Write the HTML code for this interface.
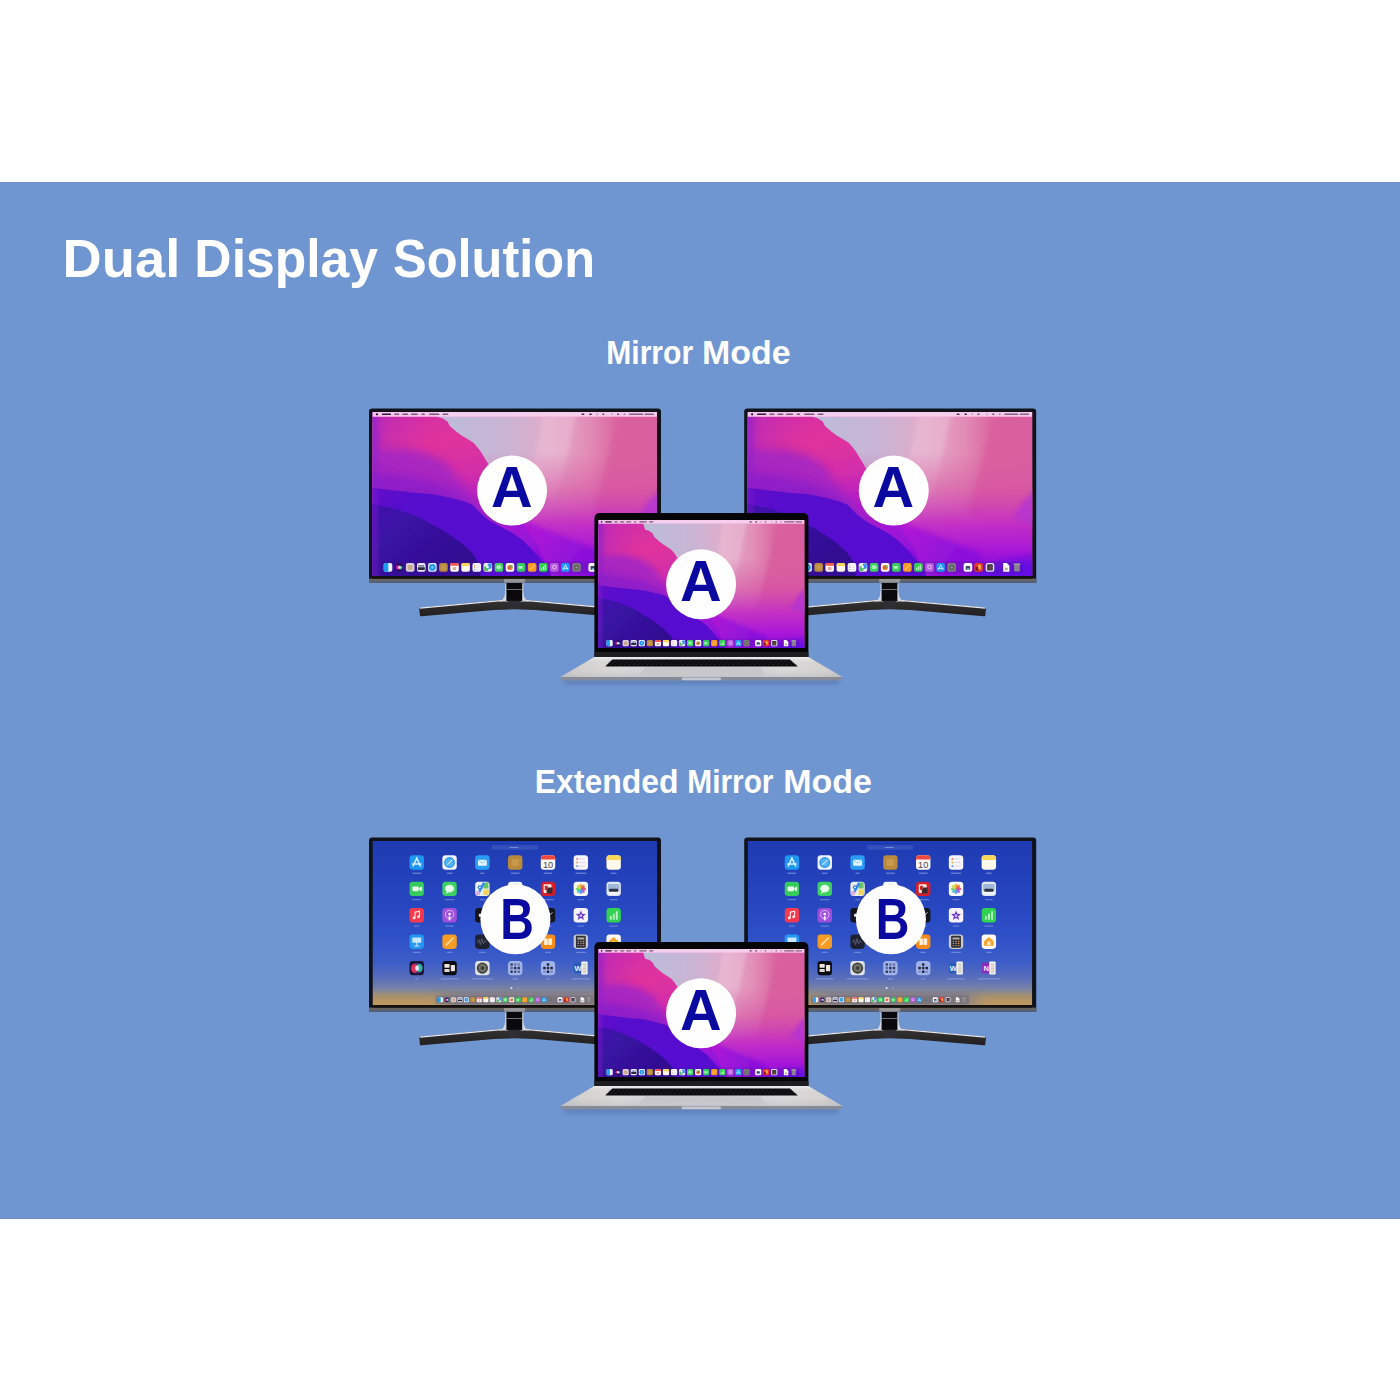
<!DOCTYPE html>
<html><head><meta charset="utf-8"><title>Dual Display Solution</title>
<style>
html,body{margin:0;padding:0;background:#fff;}
body{width:1400px;height:1400px;overflow:hidden;font-family:"Liberation Sans",sans-serif;}
svg{display:block}
text{font-family:"Liberation Sans",sans-serif;}
</style></head><body>
<svg width="1400" height="1400" viewBox="0 0 1400 1400">
<defs>

<linearGradient id="wBg" x1="70" y1="0" x2="284" y2="0" gradientUnits="userSpaceOnUse">
 <stop offset="0" stop-color="#bcbcd9"/><stop offset=".3" stop-color="#cbb4d4"/>
 <stop offset=".5" stop-color="#e2acca"/><stop offset=".68" stop-color="#e28db6"/>
 <stop offset=".82" stop-color="#db66a1"/><stop offset="1" stop-color="#d85e9e"/>
</linearGradient>
<linearGradient id="wBgV" x1="0" y1="40" x2="0" y2="164" gradientUnits="userSpaceOnUse">
 <stop offset="0" stop-color="#d85e9e" stop-opacity="0"/><stop offset=".3" stop-color="#d650a6" stop-opacity=".55"/>
 <stop offset=".58" stop-color="#c22cc6" stop-opacity=".95"/><stop offset=".8" stop-color="#a616d8"/><stop offset="1" stop-color="#8a10d6"/>
</linearGradient>
<linearGradient id="wPink" x1="40" y1="0" x2="70" y2="164" gradientUnits="userSpaceOnUse">
 <stop offset="0" stop-color="#d42ea6"/><stop offset=".2" stop-color="#e0329b"/><stop offset=".42" stop-color="#d22eaa"/>
 <stop offset=".6" stop-color="#b420c6"/><stop offset=".76" stop-color="#a416d6"/><stop offset="1" stop-color="#8c10da"/>
</linearGradient>
<linearGradient id="wLeft" x1="0" y1="0" x2="60" y2="0" gradientUnits="userSpaceOnUse">
 <stop offset="0" stop-color="#a226c6" stop-opacity=".85"/><stop offset=".25" stop-color="#b42abc" stop-opacity=".5"/><stop offset="1" stop-color="#c42cb4" stop-opacity="0"/>
</linearGradient>
<linearGradient id="wB2" x1="0" y1="30" x2="60" y2="110" gradientUnits="userSpaceOnUse">
 <stop offset="0" stop-color="#a824c2"/><stop offset=".5" stop-color="#b024c0"/><stop offset="1" stop-color="#a01cc8"/>
</linearGradient>
<linearGradient id="wB3" x1="0" y1="60" x2="120" y2="150" gradientUnits="userSpaceOnUse">
 <stop offset="0" stop-color="#6412c8"/><stop offset=".3" stop-color="#570fcc"/><stop offset="1" stop-color="#560ed0"/>
</linearGradient>
<linearGradient id="wB4" x1="0" y1="90" x2="60" y2="164" gradientUnits="userSpaceOnUse">
 <stop offset="0" stop-color="#4511b2"/><stop offset=".4" stop-color="#3912a2"/><stop offset="1" stop-color="#311092"/>
</linearGradient>
<linearGradient id="wMag" x1="110" y1="90" x2="200" y2="164" gradientUnits="userSpaceOnUse">
 <stop offset="0" stop-color="#c020c4"/><stop offset=".5" stop-color="#ac18d6"/><stop offset="1" stop-color="#8a10da"/>
</linearGradient>
<filter id="wblur" x="-5%" y="-5%" width="110%" height="110%"><feGaussianBlur stdDeviation="0.7"/></filter>
<filter id="wblur2" x="-10%" y="-10%" width="120%" height="120%"><feGaussianBlur stdDeviation="2.2"/></filter>
<filter id="wblur3" x="-10%" y="-10%" width="120%" height="120%"><feGaussianBlur stdDeviation="4"/></filter>

<g id="wallart"><rect x="-2" y="-14" width="288.5" height="184" fill="url(#wBg)"/><polygon points="175.1,-16.3 207.7,-16.3 195.4,40.7 183.2,85.5 162.9,87.5 160.8,50.9" fill="#ecbdd6" opacity=".55" filter="url(#wblur2)"/><polygon points="250.4,-16.3 289.1,-16.3 289.1,105.9 219.9,105.9 234.1,50.9" fill="#d9609f" opacity=".9" filter="url(#wblur2)"/><rect x="-2" y="-14" width="288.5" height="184" fill="url(#wBgV)"/><polygon points="289.1,77.4 276.9,87.5 264.7,105.9 289.1,114.0" fill="#b434d2" opacity=".8" filter="url(#wblur2)"/><polygon points="114.0,85.5 154.7,109.9 195.4,126.2 234.1,142.5 234.1,171.0 101.8,171.0" fill="url(#wMag)" filter="url(#wblur2)"/><polygon points="-5.0,-16.0 58.0,-16.0 61.0,-6.0 64.5,4.8 70.0,6.2 75.0,9.5 77.3,14.0 83.0,19.0 89.0,23.4 95.0,27.0 100.7,30.6 104.3,34.4 107.7,38.8 111.2,44.4 115.0,50.8 130.0,77.0 151.0,113.0 163.0,130.0 183.0,172.0 -5.0,172.0" fill="url(#wPink)" filter="url(#wblur)"/><rect x="-2" y="-14" width="62" height="94" fill="url(#wLeft)"/><polygon points="-8.0,37.0 12.0,38.0 35.0,37.5 58.5,43.0 75.0,52.5 84.0,65.0 100.0,85.0 140.0,125.0 140.0,172.0 -8.0,172.0" fill="#a225c4" opacity=".86" filter="url(#wblur3)"/><polygon points="-8.0,60.0 30.0,64.0 60.0,70.0 85.0,80.0 100.0,92.0 120.0,112.0 120.0,172.0 -8.0,172.0" fill="#8a1cca" opacity=".8" filter="url(#wblur3)"/><polygon points="-5.0,75.0 20.0,78.2 40.0,80.5 58.5,82.0 70.0,84.0 82.0,86.7 92.0,89.5 99.5,92.6 105.4,98.5 111.0,104.0 117.0,108.6 128.8,115.0 140.0,121.0 150.0,128.0 160.0,138.0 169.0,148.0 176.0,157.0 181.0,172.0 -5.0,172.0" fill="url(#wB3)" filter="url(#wblur)"/><polygon points="-5.0,91.5 3.5,92.5 23.4,96.8 46.8,105.4 70.3,118.3 87.8,130.0 99.5,140.5 105.4,150.0 110.0,172.0 -5.0,172.0" fill="url(#wB4)" filter="url(#wblur)"/><ellipse cx="290" cy="172" rx="70" ry="26" fill="#5a0ee6" opacity=".8" filter="url(#wblur3)"/><rect x="-2" y="-14" width="8" height="186" fill="#8a22d0" opacity=".35" filter="url(#wblur2)"/></g><g id="menubar"><rect x="0" y="0" width="284.5" height="4.7" fill="#f7d0ee" opacity=".94"/><rect x="0" y="4.1" width="284.5" height=".7" fill="#fda6e6" opacity=".5"/><g fill="#2a1030"><circle cx="4.4" cy="2.35" r="1.1"/><rect x="9.4" y="1.6" width="9.1" height="1.5" rx=".6" opacity="0.95"/><rect x="21.8" y="1.6" width="4.8" height="1.5" rx=".6" opacity="0.6"/><rect x="29.8" y="1.6" width="5.9" height="1.5" rx=".6" opacity="0.6"/><rect x="38.4" y="1.6" width="6.9" height="1.5" rx=".6" opacity="0.6"/><rect x="49.0" y="1.6" width="3.3" height="1.5" rx=".6" opacity="0.6"/><rect x="56.6" y="1.6" width="10.2" height="1.5" rx=".6" opacity="0.6"/><rect x="70.0" y="1.6" width="5.9" height="1.5" rx=".6" opacity="0.6"/><rect x="209.0" y="1.5" width="2.8" height="1.6" rx=".6" opacity="0.85"/><rect x="216.8" y="1.5" width="2.4" height="1.6" rx=".6" opacity="0.9"/><rect x="224.0" y="1.5" width="1.2" height="1.6" rx=".6" opacity="0.5"/><rect x="229.8" y="1.5" width="2.0" height="1.6" rx=".6" opacity="0.7"/><rect x="238.5" y="1.5" width="1.4" height="1.6" rx=".6" opacity="0.35"/><rect x="244.6" y="1.5" width="2.0" height="1.6" rx=".6" opacity="0.7"/><rect x="251.0" y="1.5" width="2.0" height="1.6" rx=".6" opacity="0.4"/><rect x="256.5" y="1.5" width="14.0" height="1.6" rx=".6" opacity="0.55"/><rect x="272.0" y="1.5" width="9.3" height="1.6" rx=".6" opacity="0.55"/></g></g>
<g id="dock"><rect x="-4.30" y="-4.30" width="8.60" height="8.60" rx="1.98" fill="#e9f1fa" /><path d="M-2.32 -4.30 h2.62 v8.60 h-2.62 a1.98 1.98 0 0 1 -1.98 -1.98 v-4.64 a1.98 1.98 0 0 1 1.98 -1.98 z" fill="#1d9bf3"/><circle cx="11.09" cy="0.00" r="4.08" fill="#2a0d5a"/><circle cx="10.29" cy="0.00" r="2.37" fill="#d020a0"/><circle cx="12.59" cy="0.20" r="1.81" fill="#30d0a0"/><circle cx="11.39" cy="0.00" r="1.20" fill="#f4e8ff"/><rect x="17.88" y="-4.30" width="8.60" height="8.60" rx="1.98" fill="#d9cfd6" /><rect x="19.81" y="-2.37" width="4.73" height="4.73" rx="0.80" fill="#c9a98c" /><rect x="28.97" y="-4.30" width="8.60" height="8.60" rx="1.98" fill="#e8e6f2" /><rect x="29.74" y="-0.18" width="7.05" height="2.75" rx="0.50" fill="#2c2c3c" /><rect x="30.26" y="-2.46" width="6.02" height="1.72" rx="0.40" fill="#7a86b0" /><rect x="40.06" y="-4.30" width="8.60" height="8.60" rx="1.98" fill="#e6f0fb" /><circle cx="44.36" cy="0.00" r="3.35" fill="#2496ef"/><circle cx="44.36" cy="0.00" r="1.29" fill="#7cc6f8"/><rect x="51.15" y="-4.30" width="8.60" height="8.60" rx="1.98" fill="#b98a3e" /><rect x="53.30" y="-2.15" width="4.30" height="4.30" rx="1.00" fill="#c79a4c" /><rect x="62.24" y="-4.30" width="8.60" height="8.60" rx="1.98" fill="#fbf7f6" /><path d="M64.22 -4.30 h4.64 a1.98 1.98 0 0 1 1.98 1.98 v0.6 h-8.60 v-0.6 a1.98 1.98 0 0 1 1.98 -1.98 z" fill="#f2564a"/><rect x="64.82" y="-0.30" width="3.44" height="3.01" rx="0.50" fill="#e8a8a0" /><rect x="73.33" y="-4.30" width="8.60" height="8.60" rx="1.98" fill="#fcf8ea" /><path d="M75.31 -4.30 h4.64 a1.98 1.98 0 0 1 1.98 1.98 v0.9 h-8.60 v-0.9 a1.98 1.98 0 0 1 1.98 -1.98 z" fill="#f8d65a"/><rect x="84.42" y="-4.30" width="8.60" height="8.60" rx="1.98" fill="#f7f4fa" /><circle cx="86.52" cy="-2.20" r=".55" fill="#f06050"/><rect x="87.72" y="-2.45" width="3.6" height=".5" fill="#d8d4dc"/><circle cx="86.52" cy="0.00" r=".55" fill="#f0a030"/><rect x="87.72" y="-0.25" width="3.6" height=".5" fill="#d8d4dc"/><circle cx="86.52" cy="2.20" r=".55" fill="#4090f0"/><rect x="87.72" y="1.95" width="3.6" height=".5" fill="#d8d4dc"/><rect x="95.51" y="-4.30" width="8.60" height="8.60" rx="1.98" fill="#e6f2e6" /><rect x="96.06" y="-1.07" width="4.30" height="4.73" rx="1.00" fill="#58c060" /><rect x="99.67" y="-3.78" width="3.87" height="5.16" rx="1.00" fill="#3a8ef0" /><circle cx="99.51" cy="-0.50" r="1.3" fill="#f0f4fa"/><rect x="106.60" y="-4.30" width="8.60" height="8.60" rx="1.98" fill="#3fd263" /><ellipse cx="110.90" cy="-0.20" rx="2.5" ry="2.1" fill="#a8f0b8"/><rect x="117.69" y="-4.30" width="8.60" height="8.60" rx="1.98" fill="#faf6f4" /><circle cx="121.99" cy="0.00" r="2.7" fill="#f0903a"/><circle cx="121.39" cy="0.40" r="1.5" fill="#e05040"/><circle cx="123.19" cy="-1.00" r="1.2" fill="#60b050"/><rect x="128.78" y="-4.30" width="8.60" height="8.60" rx="1.98" fill="#36cb5a" /><rect x="130.43" y="-1.46" width="4.30" height="2.92" rx="0.50" fill="#b0f0c0" /><rect x="139.87" y="-4.30" width="8.60" height="8.60" rx="1.98" fill="#f69c24" /><path d="M141.97 2.20 L146.57 -2.40" stroke="#fbd9a0" stroke-width="1"/><rect x="150.96" y="-4.30" width="8.60" height="8.60" rx="1.98" fill="#31d152" /><rect x="152.96" y="0.40" width="1.1" height="2.20" fill="#c0f4c8"/><rect x="154.76" y="-1.00" width="1.1" height="3.60" fill="#c0f4c8"/><rect x="156.56" y="-2.40" width="1.1" height="5.00" fill="#c0f4c8"/><rect x="162.05" y="-4.30" width="8.60" height="8.60" rx="1.98" fill="#b85de0" /><circle cx="166.35" cy="-0.40" r="2.3" fill="#dca8f2"/><circle cx="166.35" cy="-0.40" r=".9" fill="#a040d0"/><rect x="173.14" y="-4.30" width="8.60" height="8.60" rx="1.98" fill="#1f98f4" /><path d="M175.14 2.40 L177.44 -2.60 L179.74 2.40 M174.64 0.90 H180.24" stroke="#d8efff" stroke-width=".9" fill="none"/><rect x="184.23" y="-4.30" width="8.60" height="8.60" rx="1.98" fill="#7e7a82" /><circle cx="188.53" cy="0.00" r="2.6" fill="#5a6058"/><circle cx="188.53" cy="0.00" r="1.2" fill="#9a9898"/><rect x="200.42" y="-4.30" width="8.60" height="8.60" rx="1.98" fill="#f6f4fa" /><rect x="202.57" y="-1.33" width="4.30" height="3.87" rx="0.60" fill="#3a4460" /><rect x="203.63" y="0.94" width="2.58" height="1.72" rx="0.40" fill="#90b8e8" /><rect x="211.07" y="-4.30" width="8.60" height="8.60" rx="1.98" fill="#e8382c" /><rect x="214.99" y="-2.77" width="2.75" height="4.73" rx="0.50" fill="#f8b050" /><rect x="212.48" y="-0.32" width="2.58" height="3.44" rx="0.50" fill="#7a1820" /><rect x="222.49" y="-4.30" width="8.60" height="8.60" rx="1.98" fill="#e4dcee" /><rect x="223.95" y="-3.10" width="5.68" height="6.19" rx="0.70" fill="#3c3a4a" /><rect x="226.12" y="-1.42" width="2.15" height="3.44" rx="0.40" fill="#7a4a3a" /><path d="M240.00 -4.30 h3.61 l2.58 2.58 v6.02 h-6.19 z" fill="#fdfbf7"/><rect x="241.59" y="0.31" width="3.01" height="2.58" rx="0.30" fill="#b8b09a" /><rect x="250.90" y="-3.57" width="5.68" height="7.74" rx="1.00" fill="#8e8a8a" opacity=".92"/><rect x="250.30" y="-3.90" width="6.88" height="1.20" rx="0.50" fill="#a8a4a0" /></g>

<linearGradient id="lpV" x1="0" y1="0" x2="0" y2="164" gradientUnits="userSpaceOnUse">
 <stop offset="0" stop-color="#1f3bb3"/><stop offset=".3" stop-color="#2443bd"/><stop offset=".55" stop-color="#2c4ec6"/><stop offset=".74" stop-color="#3d5dc8"/>
 <stop offset=".84" stop-color="#5a6fba"/><stop offset=".9" stop-color="#7882a6"/><stop offset=".945" stop-color="#a8916f"/><stop offset="1" stop-color="#c29a5e"/>
</linearGradient>
<linearGradient id="lpMid" x1="0" y1="0" x2="284.5" y2="0" gradientUnits="userSpaceOnUse">
 <stop offset="0" stop-color="#7c7c90" stop-opacity="0"/><stop offset=".2" stop-color="#7c7c90" stop-opacity="0"/><stop offset=".3" stop-color="#7c7c90" stop-opacity=".75"/>
 <stop offset=".75" stop-color="#7c7c90" stop-opacity=".75"/><stop offset=".84" stop-color="#7c7c90" stop-opacity="0"/><stop offset="1" stop-color="#7c7c90" stop-opacity="0"/>
</linearGradient>
<g id="launch"><rect width="284.5" height="164" fill="url(#lpV)"/><rect x="0" y="150" width="284.5" height="14" fill="url(#lpMid)"/><rect x="119.5" y="4.3" width="46" height="4.4" rx="1.2" fill="#8aa0e0" opacity=".2"/><rect x="137" y="5.9" width="9" height="1.2" rx=".6" fill="#c8d4f8" opacity=".45"/><g transform="translate(44.24,21.50) scale(1.6744)"><rect x="-4.30" y="-4.30" width="8.60" height="8.60" rx="1.98" fill="#1f98f4" /><path d="M-2.30 2.40 L0.00 -2.60 L2.30 2.40 M-2.80 0.90 H2.80" stroke="#d8efff" stroke-width=".9" fill="none"/></g><rect x="39.74" y="31.60" width="9.00" height="1.3" rx=".6" fill="#b4c4f2" opacity=".42"/><rect x="69.86" y="14.30" width="14.40" height="14.40" rx="3.31" fill="#eef3fa" /><circle cx="77.06" cy="21.50" r="5.4" fill="#2a95ee"/><circle cx="77.06" cy="21.50" r="4.1" fill="#55b4f6"/><path d="M74.66 23.90 L79.66 18.90" stroke="#f2f6ff" stroke-width="1"/><rect x="74.06" y="31.60" width="6.00" height="1.3" rx=".6" fill="#b4c4f2" opacity=".42"/><rect x="102.68" y="14.30" width="14.40" height="14.40" rx="3.31" fill="#2a9cf4" /><rect x="105.42" y="18.78" width="8.93" height="6.05" rx="1.00" fill="#e4f2ff" /><path d="M105.68 19.10 l4.20 3.00 l4.20 -3.00" stroke="#6ab8f6" stroke-width=".7" fill="none"/><rect x="107.63" y="31.60" width="4.50" height="1.3" rx=".6" fill="#b4c4f2" opacity=".42"/><g transform="translate(142.70,21.50) scale(1.6744)"><rect x="-4.30" y="-4.30" width="8.60" height="8.60" rx="1.98" fill="#b98a3e" /><rect x="-2.15" y="-2.15" width="4.30" height="4.30" rx="1.00" fill="#c79a4c" /></g><rect x="138.20" y="31.60" width="9.00" height="1.3" rx=".6" fill="#b4c4f2" opacity=".42"/><rect x="168.32" y="14.30" width="14.40" height="14.40" rx="3.31" fill="#fbf8f7" /><path d="M171.63 14.30 h7.78 a3.31 3.31 0 0 1 3.31 3.31 v0.8 h-14.40 v-0.8 a3.31 3.31 0 0 1 3.31 -3.31 z" fill="#f1493e"/><text x="175.52" y="27.10" font-size="9.2" fill="#4a4648" text-anchor="middle">10</text><rect x="171.02" y="31.60" width="9.00" height="1.3" rx=".6" fill="#b4c4f2" opacity=".42"/><g transform="translate(208.34,21.50) scale(1.6744)"><rect x="-4.30" y="-4.30" width="8.60" height="8.60" rx="1.98" fill="#f7f4fa" /><circle cx="-2.20" cy="-2.20" r=".55" fill="#f06050"/><rect x="-1.00" y="-2.45" width="3.6" height=".5" fill="#d8d4dc"/><circle cx="-2.20" cy="0.00" r=".55" fill="#f0a030"/><rect x="-1.00" y="-0.25" width="3.6" height=".5" fill="#d8d4dc"/><circle cx="-2.20" cy="2.20" r=".55" fill="#4090f0"/><rect x="-1.00" y="1.95" width="3.6" height=".5" fill="#d8d4dc"/></g><rect x="202.84" y="31.60" width="11.00" height="1.3" rx=".6" fill="#b4c4f2" opacity=".42"/><g transform="translate(241.16,21.50) scale(1.6744)"><rect x="-4.30" y="-4.30" width="8.60" height="8.60" rx="1.98" fill="#fcf8ea" /><path d="M-2.32 -4.30 h4.64 a1.98 1.98 0 0 1 1.98 1.98 v0.9 h-8.60 v-0.9 a1.98 1.98 0 0 1 1.98 -1.98 z" fill="#f8d65a"/></g><rect x="238.16" y="31.60" width="6.00" height="1.3" rx=".6" fill="#b4c4f2" opacity=".42"/><rect x="37.04" y="40.70" width="14.40" height="14.40" rx="3.31" fill="#35cc5b" /><rect x="39.84" y="45.50" width="6.40" height="4.80" rx="1.10" fill="#e8fbea" /><path d="M46.64 47.10 l2.8 -1.8 v5.2 l-2.8 -1.8 z" fill="#e8fbea"/><rect x="39.74" y="58.00" width="9.00" height="1.3" rx=".6" fill="#b4c4f2" opacity=".42"/><rect x="69.86" y="40.70" width="14.40" height="14.40" rx="3.31" fill="#3dd162" /><ellipse cx="77.06" cy="47.60" rx="4.6" ry="3.8" fill="#e6fbe9"/><path d="M74.46 50.30 l-1.6 2.6 l3.2 -1.4 z" fill="#e6fbe9"/><rect x="72.06" y="58.00" width="10.00" height="1.3" rx=".6" fill="#b4c4f2" opacity=".42"/><rect x="102.68" y="40.70" width="14.40" height="14.40" rx="3.31" fill="#e9f1e4" /><path d="M110.88 41.50 h5 v6 h-5 z" fill="#62c467"/><path d="M110.88 48.50 h5.4 v5.6 h-5.4 z" fill="#f2d25c"/><path d="M105.28 53.50 L111.48 41.90" stroke="#3b8cf0" stroke-width="2.6"/><circle cx="107.28" cy="46.30" r="2.1" fill="#2f7be8"/><circle cx="107.28" cy="46.30" r=".9" fill="#f4f8ff"/><rect x="103.28" y="50.30" width="4" height="4" fill="#d9b0e8"/><rect x="107.38" y="58.00" width="5.00" height="1.3" rx=".6" fill="#b4c4f2" opacity=".42"/><rect x="135.50" y="40.70" width="14.40" height="14.40" rx="3.31" fill="#f4f8f4" /><circle cx="142.70" cy="47.90" r="4.6" fill="#5cd070"/><circle cx="142.70" cy="47.90" r="2" fill="#2a8af0"/><rect x="139.20" y="58.00" width="7.00" height="1.3" rx=".6" fill="#b4c4f2" opacity=".42"/><rect x="168.32" y="40.70" width="14.40" height="14.40" rx="3.31" fill="#d4202a" /><rect x="171.06" y="43.28" width="7.92" height="8.64" rx="1.00" fill="#f6e4e0" /><rect x="174.14" y="46.38" width="5.76" height="6.05" rx="0.80" fill="#3a2a30" /><rect x="172.28" y="44.74" width="2.88" height="4.32" rx="0.50" fill="#c03030" /><rect x="169.52" y="58.00" width="12.00" height="1.3" rx=".6" fill="#b4c4f2" opacity=".42"/><rect x="201.14" y="40.70" width="14.40" height="14.40" rx="3.31" fill="#fbf9f7" /><ellipse cx="208.34" cy="45.20" rx="1.55" ry="2.5" fill="#f5a623" opacity=".9" transform="rotate(0.0 208.34 45.20)"/><ellipse cx="210.25" cy="45.99" rx="1.55" ry="2.5" fill="#f26c3d" opacity=".9" transform="rotate(45.0 210.25 45.99)"/><ellipse cx="211.04" cy="47.90" rx="1.55" ry="2.5" fill="#e8456b" opacity=".9" transform="rotate(90.0 211.04 47.90)"/><ellipse cx="210.25" cy="49.81" rx="1.55" ry="2.5" fill="#b45ad6" opacity=".9" transform="rotate(135.0 210.25 49.81)"/><ellipse cx="208.34" cy="50.60" rx="1.55" ry="2.5" fill="#5b8def" opacity=".9" transform="rotate(180.0 208.34 50.60)"/><ellipse cx="206.43" cy="49.81" rx="1.55" ry="2.5" fill="#3cc4d8" opacity=".9" transform="rotate(225.0 206.43 49.81)"/><ellipse cx="205.64" cy="47.90" rx="1.55" ry="2.5" fill="#6fce5a" opacity=".9" transform="rotate(270.0 205.64 47.90)"/><ellipse cx="206.43" cy="45.99" rx="1.55" ry="2.5" fill="#d8d838" opacity=".9" transform="rotate(315.0 206.43 45.99)"/><rect x="204.84" y="58.00" width="7.00" height="1.3" rx=".6" fill="#b4c4f2" opacity=".42"/><rect x="233.96" y="40.70" width="14.40" height="14.40" rx="3.31" fill="#dfe6f0" /><rect x="235.40" y="42.90" width="11.52" height="7.20" rx="1.00" fill="#9fb8d8" /><rect x="236.70" y="47.63" width="8.93" height="3.74" rx="0.80" fill="#2c3040" /><rect x="235.40" y="50.80" width="11.52" height="2.59" rx="0.60" fill="#f4f6fa" /><rect x="237.16" y="58.00" width="8.00" height="1.3" rx=".6" fill="#b4c4f2" opacity=".42"/><rect x="37.04" y="67.10" width="14.40" height="14.40" rx="3.31" fill="#f43a4c" /><path d="M42.54 76.90 v-5.6 l4.4 -1.1 v5.4" stroke="#ffe8ea" stroke-width="1.1" fill="none"/><circle cx="41.54" cy="77.00" r="1.4" fill="#ffe8ea"/><circle cx="45.94" cy="75.80" r="1.4" fill="#ffe8ea"/><rect x="41.24" y="84.40" width="6.00" height="1.3" rx=".6" fill="#b4c4f2" opacity=".42"/><rect x="69.86" y="67.10" width="14.40" height="14.40" rx="3.31" fill="#9f4fdc" /><circle cx="77.06" cy="73.50" r="4.2" fill="none" stroke="#d9b6f4" stroke-width="1"/><circle cx="77.06" cy="73.10" r="1.4" fill="#f4e8ff"/><rect x="76.11" y="75.10" width="1.90" height="4.40" rx="0.90" fill="#f4e8ff" /><rect x="72.56" y="84.40" width="9.00" height="1.3" rx=".6" fill="#b4c4f2" opacity=".42"/><rect x="102.68" y="67.10" width="14.40" height="14.40" rx="3.31" fill="#14141c" /><rect x="106.38" y="72.80" width="3.00" height="3.00" rx="0.60" fill="#e8e8ee" /><rect x="108.38" y="84.40" width="3.00" height="1.3" rx=".6" fill="#b4c4f2" opacity=".42"/><rect x="168.32" y="67.10" width="14.40" height="14.40" rx="3.31" fill="#16161e" /><path d="M170.52 76.30 l3 -3 l2.5 2 l4 -4" stroke="#e8e8ee" stroke-width=".8" fill="none"/><rect x="172.02" y="84.40" width="7.00" height="1.3" rx=".6" fill="#b4c4f2" opacity=".42"/><rect x="201.14" y="67.10" width="14.40" height="14.40" rx="3.31" fill="#f5f2fa" /><polygon points="208.34,69.50 209.69,72.84 213.29,73.09 210.53,75.41 211.40,78.91 208.34,77.00 205.28,78.91 206.15,75.41 203.39,73.09 206.99,72.84" fill="#6a3cc4"/><circle cx="208.34" cy="74.70" r="1.4" fill="#c8b0f0"/><rect x="204.84" y="84.40" width="7.00" height="1.3" rx=".6" fill="#b4c4f2" opacity=".42"/><g transform="translate(241.16,74.30) scale(1.6744)"><rect x="-4.30" y="-4.30" width="8.60" height="8.60" rx="1.98" fill="#31d152" /><rect x="-2.30" y="0.40" width="1.1" height="2.20" fill="#c0f4c8"/><rect x="-0.50" y="-1.00" width="1.1" height="3.60" fill="#c0f4c8"/><rect x="1.30" y="-2.40" width="1.1" height="5.00" fill="#c0f4c8"/></g><rect x="236.66" y="84.40" width="9.00" height="1.3" rx=".6" fill="#b4c4f2" opacity=".42"/><rect x="37.04" y="93.50" width="14.40" height="14.40" rx="3.31" fill="#2497f2" /><rect x="39.78" y="96.51" width="8.93" height="5.18" rx="0.60" fill="#c8e6ff" /><rect x="43.74" y="101.20" width="1.00" height="3.40" rx="0.00" fill="#d8eeff" /><rect x="41.74" y="104.40" width="5.00" height="1.00" rx="0.40" fill="#d8eeff" /><rect x="40.24" y="110.80" width="8.00" height="1.3" rx=".6" fill="#b4c4f2" opacity=".42"/><g transform="translate(77.06,100.70) scale(1.6744)"><rect x="-4.30" y="-4.30" width="8.60" height="8.60" rx="1.98" fill="#f69c24" /><path d="M-2.20 2.20 L2.40 -2.40" stroke="#fbd9a0" stroke-width="1"/></g><rect x="74.06" y="110.80" width="6.00" height="1.3" rx=".6" fill="#b4c4f2" opacity=".42"/><rect x="102.68" y="93.50" width="14.40" height="14.40" rx="3.31" fill="#1e2230" /><path d="M104.88 101.70 l1.5 -3 l1.5 5 l1.5 -6 l1.5 5 l1.5 -3 l1.5 2" stroke="#6a7088" stroke-width=".7" fill="none"/><rect x="106.38" y="110.80" width="7.00" height="1.3" rx=".6" fill="#b4c4f2" opacity=".42"/><rect x="168.32" y="93.50" width="14.40" height="14.40" rx="3.31" fill="#f58d1c" /><rect x="171.62" y="97.50" width="3.60" height="6.40" rx="0.60" fill="#fff0dc" /><rect x="175.82" y="97.50" width="3.60" height="6.40" rx="0.60" fill="#fff0dc" /><rect x="172.52" y="110.80" width="6.00" height="1.3" rx=".6" fill="#b4c4f2" opacity=".42"/><rect x="201.14" y="93.50" width="14.40" height="14.40" rx="3.31" fill="#c9c9d2" /><rect x="203.44" y="94.65" width="9.79" height="12.10" rx="1.20" fill="#2e2e34" /><rect x="204.74" y="96.50" width="7.20" height="2.00" rx="0.40" fill="#b0b0a0" /><rect x="204.94" y="99.70" width="1.60" height="1.20" rx="0.30" fill="#8a8a90" /><rect x="204.94" y="101.80" width="1.60" height="1.20" rx="0.30" fill="#8a8a90" /><rect x="204.94" y="103.90" width="1.60" height="1.20" rx="0.30" fill="#8a8a90" /><rect x="207.54" y="99.70" width="1.60" height="1.20" rx="0.30" fill="#8a8a90" /><rect x="207.54" y="101.80" width="1.60" height="1.20" rx="0.30" fill="#8a8a90" /><rect x="207.54" y="103.90" width="1.60" height="1.20" rx="0.30" fill="#8a8a90" /><rect x="210.14" y="99.70" width="1.60" height="1.20" rx="0.30" fill="#e89030" /><rect x="210.14" y="101.80" width="1.60" height="1.20" rx="0.30" fill="#e89030" /><rect x="210.14" y="103.90" width="1.60" height="1.20" rx="0.30" fill="#e89030" /><rect x="203.34" y="110.80" width="10.00" height="1.3" rx=".6" fill="#b4c4f2" opacity=".42"/><rect x="233.96" y="93.50" width="14.40" height="14.40" rx="3.31" fill="#fbf8f2" /><path d="M236.36 100.30 l4.8 -4.4 l4.8 4.4 v4.4 h-9.6 z" fill="#f5a42a"/><rect x="239.46" y="100.50" width="3.40" height="3.60" rx="0.50" fill="#fde8c0" /><rect x="238.16" y="110.80" width="6.00" height="1.3" rx=".6" fill="#b4c4f2" opacity=".42"/><rect x="37.04" y="119.90" width="14.40" height="14.40" rx="3.31" fill="#1b1638" /><circle cx="44.24" cy="127.10" r="5.4" fill="#3a2a78"/><ellipse cx="42.04" cy="127.30" rx="3.4" ry="4.4" fill="#e0305a"/><ellipse cx="46.84" cy="126.90" rx="3.2" ry="4" fill="#2fb8a0"/><ellipse cx="44.54" cy="127.10" rx="2" ry="2.6" fill="#e8e6ff"/><rect x="42.74" y="137.20" width="3.00" height="1.3" rx=".6" fill="#b4c4f2" opacity=".42"/><rect x="69.86" y="119.90" width="14.40" height="14.40" rx="3.31" fill="#0b0b14" /><rect x="71.86" y="123.10" width="5.20" height="3.60" rx="0.60" fill="#ece8dc" /><rect x="71.86" y="127.90" width="5.20" height="3.20" rx="0.60" fill="#dcd8d0" /><rect x="78.26" y="124.00" width="4.20" height="6.20" rx="0.60" fill="#efe6dc" /><rect x="68.06" y="137.20" width="18.00" height="1.3" rx=".6" fill="#b4c4f2" opacity=".42"/><rect x="102.68" y="119.90" width="14.40" height="14.40" rx="3.31" fill="#dfe0e6" /><circle cx="109.88" cy="127.10" r="5.6" fill="#3c3d3a"/><circle cx="109.88" cy="127.10" r="4" fill="#6e7466"/><circle cx="109.88" cy="127.10" r="1.8" fill="#3c3d3a"/><rect x="98.88" y="137.20" width="22.00" height="1.3" rx=".6" fill="#b4c4f2" opacity=".42"/><rect x="135.50" y="119.90" width="14.40" height="14.40" rx="3.71" fill="#a9bceb" opacity=".92"/><rect x="137.85" y="122.25" width="2.50" height="2.50" rx="0.60" fill="#3a4670" /><rect x="137.85" y="125.85" width="2.50" height="2.50" rx="0.60" fill="#5a6a98" /><rect x="137.85" y="129.45" width="2.50" height="2.50" rx="0.60" fill="#30365a" /><rect x="141.45" y="122.25" width="2.50" height="2.50" rx="0.60" fill="#6a78a8" /><rect x="141.45" y="125.85" width="2.50" height="2.50" rx="0.60" fill="#2a3050" /><rect x="141.45" y="129.45" width="2.50" height="2.50" rx="0.60" fill="#48558a" /><rect x="145.05" y="122.25" width="2.50" height="2.50" rx="0.60" fill="#707cb0" /><rect x="145.05" y="125.85" width="2.50" height="2.50" rx="0.60" fill="#353c60" /><rect x="145.05" y="129.45" width="2.50" height="2.50" rx="0.60" fill="#59659a" /><rect x="139.70" y="137.20" width="6.00" height="1.3" rx=".6" fill="#b4c4f2" opacity=".42"/><rect x="168.32" y="119.90" width="14.40" height="14.40" rx="3.71" fill="#a6b8ea" opacity=".92"/><rect x="170.67" y="125.85" width="2.50" height="2.50" rx="0.60" fill="#1e2238" /><rect x="170.67" y="129.45" width="2.50" height="2.50" rx="0.60" fill="#8090c8" /><rect x="174.27" y="122.25" width="2.50" height="2.50" rx="0.60" fill="#20243c" /><rect x="174.27" y="125.85" width="2.50" height="2.50" rx="0.60" fill="#252a44" /><rect x="174.27" y="129.45" width="2.50" height="2.50" rx="0.60" fill="#1c2036" /><rect x="177.87" y="125.85" width="2.50" height="2.50" rx="0.60" fill="#222640" /><rect x="177.87" y="129.45" width="2.50" height="2.50" rx="0.60" fill="#7a8ac4" /><rect x="173.52" y="137.20" width="4.00" height="1.3" rx=".6" fill="#b4c4f2" opacity=".42"/><rect x="201.24" y="121.85" width="9.00" height="10.50" rx="1.20" fill="#2a5cb8" /><rect x="208.74" y="120.60" width="6.40" height="13.00" rx="0.80" fill="#f4f4f0" /><text x="205.64" y="129.80" font-size="7.5" font-weight="bold" fill="#e8f0ff" text-anchor="middle">W</text><rect x="210.34" y="122.70" width="3.60" height="0.80" rx="0.00" fill="#9aa8c0" /><rect x="210.34" y="124.70" width="3.60" height="0.80" rx="0.00" fill="#c8b070" /><rect x="210.34" y="126.70" width="3.60" height="0.80" rx="0.00" fill="#9aa8c0" /><rect x="210.34" y="128.70" width="3.60" height="0.80" rx="0.00" fill="#c8b070" /><rect x="210.34" y="130.70" width="3.60" height="0.80" rx="0.00" fill="#9aa8c0" /><rect x="199.34" y="137.20" width="18.00" height="1.3" rx=".6" fill="#b4c4f2" opacity=".42"/><rect x="234.06" y="121.85" width="9.00" height="10.50" rx="1.20" fill="#8a2cb8" /><rect x="241.56" y="120.60" width="6.40" height="13.00" rx="0.80" fill="#f4f4f0" /><text x="238.46" y="129.80" font-size="7.5" font-weight="bold" fill="#f6e8ff" text-anchor="middle">N</text><rect x="243.16" y="122.70" width="3.60" height="0.80" rx="0.00" fill="#b8a0c8" /><rect x="243.16" y="124.70" width="3.60" height="0.80" rx="0.00" fill="#c8b070" /><rect x="243.16" y="126.70" width="3.60" height="0.80" rx="0.00" fill="#b8a0c8" /><rect x="243.16" y="128.70" width="3.60" height="0.80" rx="0.00" fill="#c8b070" /><rect x="243.16" y="130.70" width="3.60" height="0.80" rx="0.00" fill="#b8a0c8" /><rect x="230.16" y="137.20" width="22.00" height="1.3" rx=".6" fill="#b4c4f2" opacity=".42"/><circle cx="138.9" cy="146.9" r="1" fill="#e8ecf8" opacity=".95"/><circle cx="145.5" cy="146.9" r=".9" fill="#a8b0d0" opacity=".5"/><rect x="63" y="154.4" width="158.5" height="8.6" rx="2" fill="#6e6a78" opacity=".55"/><g transform="translate(68.0,158.8) scale(.584)"><use href="#dock"/></g></g>

<linearGradient id="gBase" x1="-34" y1="0" x2="248" y2="0" gradientUnits="userSpaceOnUse">
 <stop offset="0" stop-color="#c6c6ca"/><stop offset=".08" stop-color="#d4d1ce"/><stop offset=".2" stop-color="#d9d9da"/>
 <stop offset=".5" stop-color="#cbcbce"/><stop offset=".8" stop-color="#dadadb"/><stop offset=".93" stop-color="#d5d2ce"/><stop offset="1" stop-color="#c8c8cc"/>
</linearGradient>
<linearGradient id="gBaseV" x1="0" y1="144" x2="0" y2="164" gradientUnits="userSpaceOnUse">
 <stop offset="0" stop-color="#fff" stop-opacity=".35"/><stop offset=".3" stop-color="#fff" stop-opacity="0"/><stop offset="1" stop-color="#9a9aa0" stop-opacity=".25"/>
</linearGradient>
<linearGradient id="gLeg" x1="0" y1="191" x2="0" y2="209" gradientUnits="userSpaceOnUse">
 <stop offset="0" stop-color="#353233"/><stop offset="1" stop-color="#201e20"/>
</linearGradient>
<filter id="shb" x="-20%" y="-200%" width="140%" height="500%"><feGaussianBlur stdDeviation="2.2"/></filter>
<clipPath id="clipMon"><rect x="3.5" y="3.6" width="284.5" height="164"/></clipPath>
<clipPath id="clipLap"><rect x="4" y="7" width="206" height="128"/></clipPath>
<g id="monframe"><polygon points="137,191.2 51,199.3 50.2,200.4 51,207.8 52.5,207.9 125,201.6 145.5,200.8 166,201.6 239.5,207.9 241,207.8 241.8,200.4 241,199.3 153.6,191.2" fill="url(#gLeg)"/><path d="M51,199.7 L137.5,191.8 M241,199.7 L153.1,191.8" stroke="#eef0f6" stroke-width="1.25" fill="none" opacity=".95"/><path d="M129.5,193.2 Q135.8,192 136.2,183.5 L136.3,175 L154.3,175 L154.4,183.5 Q154.8,192 161.1,193.2 Z" fill="#d3d7e2"/><rect x="137.4" y="174" width="15.8" height="18.6" fill="#0a0a0e"/><rect x="137.4" y="180.6" width="15.8" height="1" fill="#8a8a8e" opacity=".8"/><rect x="139" y="192.4" width="12.6" height="8" fill="#2e2e34"/><path d="M0,3.2 Q0,0 3.2,0 H288.8 Q292,0 292,3.2 V174.4 H0 Z" fill="#11131c"/><rect x="0" y="170.2" width="292" height="4.2" fill="#686461"/><rect x="0" y="172.5" width="292" height="1.9" fill="#566079"/><rect x="135" y="170.6" width="21" height="3.6" fill="#a2a2a2" opacity=".8"/><rect x="3.5" y="167.6" width="284.5" height="2.6" fill="#15120f"/></g><g id="screenA" clip-path="url(#clipMon)"><g transform="translate(3.5,3.6)"><use href="#wallart"/><use href="#menubar"/></g><rect x="12" y="153.2" width="268" height="11.6" rx="2.6" fill="#3a1690" opacity=".22"/><g transform="translate(19.0,159)"><use href="#dock"/></g></g><g id="screenB" clip-path="url(#clipMon)"><g transform="translate(3.5,3.6)"><use href="#launch"/></g></g><g id="laptop"><rect x="-30" y="166" width="274" height="5" fill="#4a6aa8" opacity=".55" filter="url(#shb)"/><polygon points="0,144 214,144 248,164 -34,164" fill="url(#gBase)"/><polygon points="0,144 214,144 248,164 -34,164" fill="url(#gBaseV)"/><path d="M-34,164 H248 L247.4,166.6 Q247,167.4 246,167.4 H-32 Q-33,167.4 -33.4,166.6 Z" fill="#858b99"/><rect x="87.4" y="164.6" width="39" height="2.6" rx=".8" fill="#c4c8d2"/><rect x="0" y="144" width="214" height="1.6" fill="#ececee" opacity=".8"/><polygon points="18,146.5 195.6,146.5 203.4,153.4 10.9,153.4" fill="#0c0c0f"/><path d="M15,148.2 H199 M13.4,149.9 H201 M11.8,151.6 H202.6" stroke="#4a4a50" stroke-width=".55" stroke-dasharray="1.2 3.3" fill="none"/><polygon points="51,154.5 165.8,154.5 172.6,163.2 43,163.2" fill="#c8c8cc"/><path d="M0,5.5 Q0,0 5.5,0 H208.5 Q214,0 214,5.5 V144 H0 Z" fill="#050507"/><rect x="0" y="139" width="214" height="5" fill="#1d1d22"/><g clip-path="url(#clipLap)"><g transform="translate(4,13) scale(.724,.78)"><use href="#wallart"/></g><g transform="translate(4,7) scale(.724,.78)"><use href="#menubar"/></g><rect x="9" y="125.8" width="196" height="8.4" rx="2" fill="#3a1690" opacity=".2"/><g transform="translate(15.2,130.2) scale(.726)"><use href="#dock"/></g></g></g>
</defs>
<rect x="0" y="182" width="1400" height="1037" fill="#7096d1"/>
<rect x="0" y="182" width="1400" height="1.2" fill="#6f8cbf" opacity=".6"/>
<rect x="0" y="1217.8" width="1400" height="1.2" fill="#6f8cbf" opacity=".6"/>
<text x="62.63" y="277.4" font-size="53.8" font-weight="bold" fill="#fff" textLength="117.64" lengthAdjust="spacingAndGlyphs">Dual</text>
<text x="194.36" y="277.4" font-size="53.8" font-weight="bold" fill="#fff" textLength="183.64" lengthAdjust="spacingAndGlyphs">Display</text>
<text x="393.05" y="277.4" font-size="53.8" font-weight="bold" fill="#fff" textLength="201.94" lengthAdjust="spacingAndGlyphs">Solution</text>
<text x="606.33" y="364.2" font-size="33.2" font-weight="bold" fill="#fff" textLength="86.76" lengthAdjust="spacingAndGlyphs">Mirror</text>
<text x="702.14" y="364.2" font-size="33.2" font-weight="bold" fill="#fff" textLength="88.5" lengthAdjust="spacingAndGlyphs">Mode</text>
<text x="534.7" y="793.1" font-size="33" font-weight="bold" fill="#fff" textLength="143.75" lengthAdjust="spacingAndGlyphs">Extended</text>
<text x="687.29" y="793.1" font-size="33" font-weight="bold" fill="#fff" textLength="86.18" lengthAdjust="spacingAndGlyphs">Mirror</text>
<text x="783.2" y="793.1" font-size="33" font-weight="bold" fill="#fff" textLength="88.81" lengthAdjust="spacingAndGlyphs">Mode</text>
<g transform="translate(369,408.4)"><use href="#monframe"/><use href="#screenA"/></g>
<g transform="translate(744.2,408.4)"><use href="#monframe"/><use href="#screenA"/></g>
<circle cx="512.1" cy="490.6" r="35" fill="#fffefe"/><text transform="translate(511.7,506.8) scale(1,1)" font-size="57.6" font-weight="bold" fill="#0b0aa0" text-anchor="middle">A</text>
<circle cx="893.8" cy="490.6" r="35" fill="#fffefe"/><text transform="translate(893.4,506.8) scale(1,1)" font-size="57.6" font-weight="bold" fill="#0b0aa0" text-anchor="middle">A</text>
<g transform="translate(594.4,513)"><use href="#laptop"/></g>
<circle cx="701.1" cy="584.3" r="35" fill="#fffefe"/><text transform="translate(700.7,600.5) scale(1,1)" font-size="57.6" font-weight="bold" fill="#0b0aa0" text-anchor="middle">A</text>
<g transform="translate(369,837.4)"><use href="#monframe"/><use href="#screenB"/></g>
<g transform="translate(744.2,837.4)"><use href="#monframe"/><use href="#screenB"/></g>
<circle cx="515.4" cy="919.3" r="35" fill="#fffefe"/><text transform="translate(517,939) scale(.8,1)" font-size="58.2" font-weight="bold" fill="#0b0aa0" text-anchor="middle">B</text>
<circle cx="890.9" cy="919.3" r="35" fill="#fffefe"/><text transform="translate(892.5,939) scale(.8,1)" font-size="58.2" font-weight="bold" fill="#0b0aa0" text-anchor="middle">B</text>
<g transform="translate(594.4,942)"><use href="#laptop"/></g>
<circle cx="701.1" cy="1013.3" r="35" fill="#fffefe"/><text transform="translate(700.7,1029.5) scale(1,1)" font-size="57.6" font-weight="bold" fill="#0b0aa0" text-anchor="middle">A</text>
</svg>
</body></html>
